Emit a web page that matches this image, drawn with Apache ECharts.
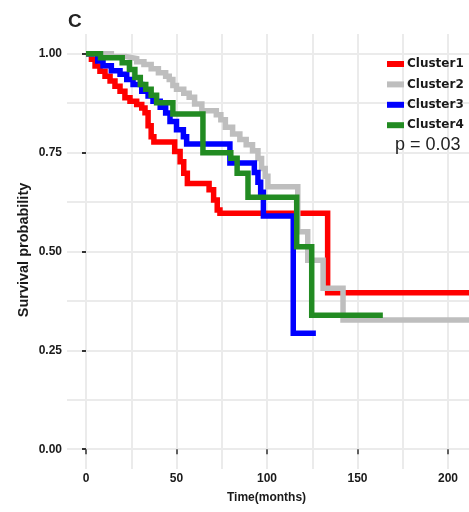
<!DOCTYPE html>
<html>
<head>
<meta charset="utf-8">
<title>Survival by cluster</title>
<script src="https://cdn.jsdelivr.net/npm/echarts@6/dist/echarts.min.js"></script>
<style>
  html, body { margin: 0; padding: 0; background: #fff; }
  #chart { width: 469px; height: 512px; }
</style>
</head>
<body>
<div id="chart"></div>
<script>
// Kaplan-Meier curves: each time is where the survival estimate drops to the paired value.
const clusterNames = ['Cluster1', 'Cluster2', 'Cluster3', 'Cluster4'];
const clusterColors = ['#FF0000', '#BEBEBE', '#0000FF', '#228B22'];

const cluster1Time = [0, 3, 5, 7.7, 10.5, 13.3, 16, 18.8, 21.5, 24.3, 28, 30.8, 32.6, 34.3, 36, 37.5, 49, 52, 54, 56, 68, 70.5, 72.5, 74, 133.5, 212];
const cluster1Surv = [1.0, 0.986, 0.969, 0.956, 0.943, 0.931, 0.918, 0.905, 0.889, 0.88, 0.872, 0.863, 0.851, 0.818, 0.79, 0.777, 0.753, 0.727, 0.698, 0.672, 0.656, 0.63, 0.605, 0.597, 0.396, 0.396];

const cluster2Time = [0, 14, 22, 28, 32, 36, 40, 44, 46, 48, 50, 54, 57, 60, 64, 72, 74.5, 77, 81, 85, 88.5, 92, 95, 97, 99, 100.5, 117, 122.5, 131, 142, 212];
const cluster2Surv = [1.0, 0.993, 0.988, 0.98, 0.973, 0.962, 0.952, 0.943, 0.935, 0.92, 0.91, 0.9, 0.89, 0.873, 0.856, 0.846, 0.833, 0.814, 0.797, 0.783, 0.77, 0.755, 0.735, 0.71, 0.69, 0.664, 0.55, 0.478, 0.407, 0.327, 0.327];

const cluster3Time = [0, 6.5, 9.4, 14, 18.8, 22.5, 26, 30.8, 34.3, 37, 41, 44, 46.4, 50, 53.8, 55.6, 79.5, 93, 95, 96.5, 98, 114.5, 127];
const cluster3Surv = [1.0, 0.982, 0.97, 0.957, 0.948, 0.935, 0.922, 0.905, 0.893, 0.88, 0.865, 0.85, 0.829, 0.808, 0.79, 0.772, 0.724, 0.70, 0.675, 0.65, 0.59, 0.293, 0.293];

const cluster4Time = [0, 8, 20, 24, 27, 30, 33, 36, 39, 48, 64.6, 80, 83.5, 89.5, 116.4, 124.7, 164];
const cluster4Surv = [1.0, 0.99, 0.977, 0.96, 0.94, 0.922, 0.91, 0.895, 0.876, 0.848, 0.75, 0.736, 0.698, 0.637, 0.512, 0.339, 0.339];

const xMajorTicks = [0, 50, 100, 150, 200];
const xMinorGrid = [25, 75, 125, 175];
const yMajorTicks = [0, 0.25, 0.5, 0.75, 1];
const yMinorGrid = [0.125, 0.375, 0.625, 0.875];
const pValueText = 'p = 0.03';

const clusterTimes = [cluster1Time, cluster2Time, cluster3Time, cluster4Time];
const clusterSurvs = [cluster1Surv, cluster2Surv, cluster3Surv, cluster4Surv];

const gridColor = '#EBEBEB';
const labelFont = { fontFamily: 'Liberation Sans, Arial, sans-serif', fontWeight: 'bold', fontSize: 12, color: '#1a1a1a' };

const X_MIN = -10.5, X_MAX = 211.6, Y_MIN = -0.05, Y_MAX = 1.05;

function majorAxis(extra) {
  return Object.assign({
    type: 'value',
    axisLine: { show: false },
    splitLine: { show: true, lineStyle: { color: gridColor, width: 2 } },
    minorSplitLine: { show: false }
  }, extra);
}
function minorAxis(extra) {
  return Object.assign({
    type: 'value',
    axisLine: { show: false },
    axisLabel: { show: false },
    splitLine: { show: true, lineStyle: { color: gridColor, width: 2 } }
  }, extra);
}

const series = clusterNames.map((name, i) => ({
  name: name,
  type: 'line',
  step: 'end',
  xAxisIndex: 0,
  yAxisIndex: 0,
  showSymbol: false,
  symbol: 'none',
  clip: true,
  z: 10 + i,
  lineStyle: { color: clusterColors[i], width: 5.5, join: 'miter', cap: 'butt' },
  itemStyle: { color: clusterColors[i] },
  emphasis: { disabled: true },
  data: clusterTimes[i].map((t, k) => [t, clusterSurvs[i][k]])
}));

const chart = echarts.init(document.getElementById('chart'), null, { renderer: 'canvas' });
chart.setOption({
  animation: false,
  backgroundColor: '#ffffff',
  grid: { left: 67, top: 34, right: 0, bottom: 43, containLabel: false },
  xAxis: [
    majorAxis({
      min: X_MIN, max: X_MAX,
      axisTick: { show: true, length: 5, customValues: xMajorTicks, lineStyle: { color: '#333', width: 1.5 } },
      axisLabel: Object.assign({ customValues: xMajorTicks, margin: 4 }, labelFont)
    }),
    minorAxis({ min: X_MIN, max: X_MAX, axisTick: { show: false, customValues: xMinorGrid } })
  ],
  yAxis: [
    majorAxis({
      min: Y_MIN, max: Y_MAX,
      axisTick: { show: true, length: 4, customValues: yMajorTicks, lineStyle: { color: '#333', width: 2 } },
      axisLabel: Object.assign({ customValues: yMajorTicks, margin: 5, formatter: v => v.toFixed(2) }, labelFont)
    }),
    minorAxis({ min: Y_MIN, max: Y_MAX, axisTick: { show: false, customValues: yMinorGrid } })
  ],
  legend: {
    orient: 'vertical',
    left: 387,
    top: 58,
    padding: 0,
    itemWidth: 17,
    itemHeight: 6,
    itemGap: 8.4,
    icon: 'rect',
    selectedMode: false,
    data: clusterNames,
    textStyle: { fontFamily: 'DejaVu Sans, sans-serif', fontWeight: 'bold', fontSize: 12, color: '#1a1a1a', padding: [0, 0, 0, -2] }
  },
  graphic: [
    { type: 'text', z: 100, left: 68, top: 12, style: { text: 'C', font: 'bold 19px Liberation Sans, Arial, sans-serif', fill: '#222' } },
    { type: 'text', z: 100, x: 395, y: 136, style: { text: pValueText, font: '18px Liberation Sans, Arial, sans-serif', fill: '#222' } },
    { type: 'text', z: 100, x: 266.5, y: 497.5, style: { text: 'Time(months)', font: 'bold 12px Liberation Sans, Arial, sans-serif', fill: '#1a1a1a', align: 'center', verticalAlign: 'middle' } },
    { type: 'text', z: 100, x: 24, y: 250, rotation: Math.PI / 2, style: { text: 'Survival probability', font: 'bold 14.5px Liberation Sans, Arial, sans-serif', fill: '#1a1a1a', align: 'center', verticalAlign: 'middle' } }
  ],
  series: series
});
</script>
</body>
</html>
